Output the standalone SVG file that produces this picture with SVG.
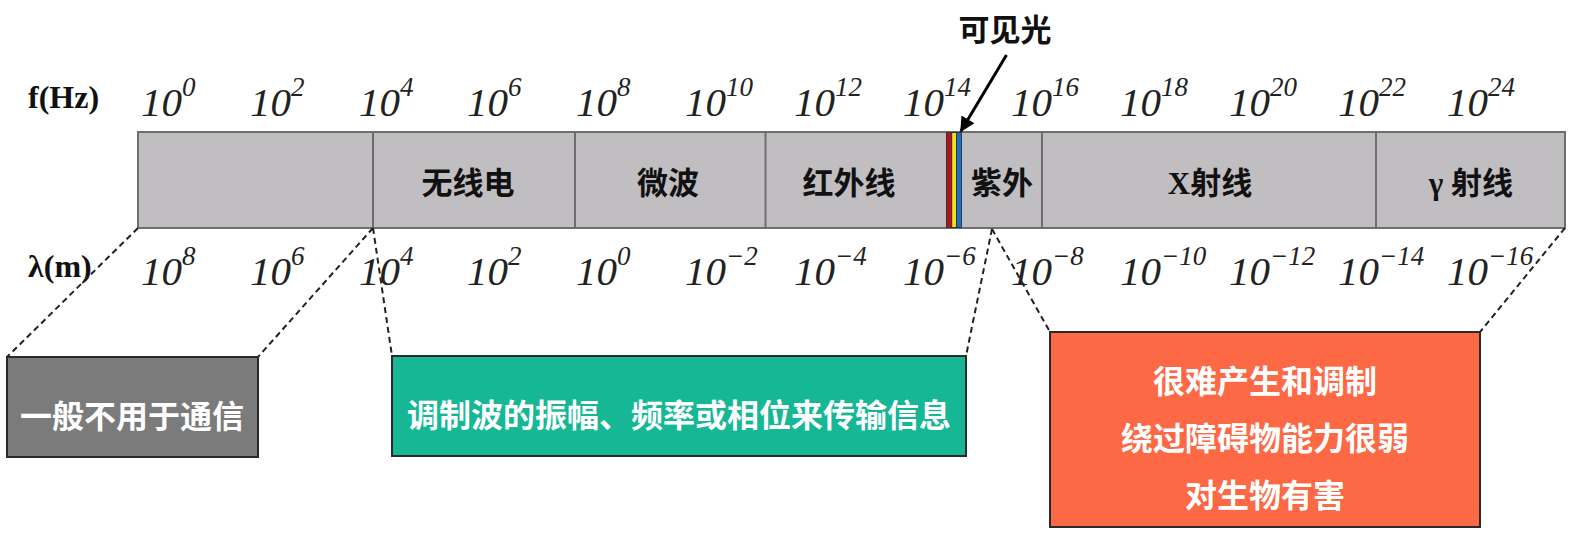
<svg xmlns="http://www.w3.org/2000/svg" width="1575" height="542" viewBox="0 0 1575 542">
<style>
.num{font-family:"Liberation Serif","Times New Roman",serif;font-style:italic;font-size:41px;fill:#222}
.num tspan{font-size:27px}
.axis{font-family:"Liberation Serif","Times New Roman",serif;font-weight:bold;font-size:32px;fill:#111}
.band{font-family:"Liberation Serif","Noto Sans CJK SC",sans-serif;font-weight:bold;font-size:31px;fill:#111;text-anchor:middle}
.cjk{font-family:"Noto Sans CJK SC",sans-serif;font-weight:bold;text-anchor:middle}
.wt{fill:#fff;font-size:32px}
.box{stroke:#2a2a2a;stroke-width:2}
.dash{stroke:#222;stroke-width:2;stroke-dasharray:6 4;fill:none}
.div{stroke:#6e6e6e;stroke-width:2}
</style>
<defs>
<marker id="ah" viewBox="0 0 10 10" refX="9" refY="5" markerWidth="6" markerHeight="5" orient="auto" markerUnits="strokeWidth">
<path d="M0,0 L10,5 L0,10 z" fill="#000"/>
</marker>
</defs>

<g id="axis-labels">
<text class="axis" x="28" y="108">f(Hz)</text>
<text class="axis" x="28" y="277">λ(m)</text>
</g>

<g id="freq-labels">
<text class="num" x="141" y="116">10<tspan dy="-20">0</tspan></text>
<text class="num" x="250" y="116">10<tspan dy="-20">2</tspan></text>
<text class="num" x="359" y="116">10<tspan dy="-20">4</tspan></text>
<text class="num" x="467" y="116">10<tspan dy="-20">6</tspan></text>
<text class="num" x="576" y="116">10<tspan dy="-20">8</tspan></text>
<text class="num" x="685" y="116">10<tspan dy="-20">10</tspan></text>
<text class="num" x="794" y="116">10<tspan dy="-20">12</tspan></text>
<text class="num" x="903" y="116">10<tspan dy="-20">14</tspan></text>
<text class="num" x="1011" y="116">10<tspan dy="-20">16</tspan></text>
<text class="num" x="1120" y="116">10<tspan dy="-20">18</tspan></text>
<text class="num" x="1229" y="116">10<tspan dy="-20">20</tspan></text>
<text class="num" x="1338" y="116">10<tspan dy="-20">22</tspan></text>
<text class="num" x="1447" y="116">10<tspan dy="-20">24</tspan></text>
</g>

<g id="wave-labels">
<text class="num" x="141" y="285">10<tspan dy="-20">8</tspan></text>
<text class="num" x="250" y="285">10<tspan dy="-20">6</tspan></text>
<text class="num" x="359" y="285">10<tspan dy="-20">4</tspan></text>
<text class="num" x="467" y="285">10<tspan dy="-20">2</tspan></text>
<text class="num" x="576" y="285">10<tspan dy="-20">0</tspan></text>
<text class="num" x="685" y="285">10<tspan dy="-20">−2</tspan></text>
<text class="num" x="794" y="285">10<tspan dy="-20">−4</tspan></text>
<text class="num" x="903" y="285">10<tspan dy="-20">−6</tspan></text>
<text class="num" x="1011" y="285">10<tspan dy="-20">−8</tspan></text>
<text class="num" x="1120" y="285">10<tspan dy="-20">−10</tspan></text>
<text class="num" x="1229" y="285">10<tspan dy="-20">−12</tspan></text>
<text class="num" x="1338" y="285">10<tspan dy="-20">−14</tspan></text>
<text class="num" x="1447" y="285">10<tspan dy="-20">−16</tspan></text>
</g>

<g id="spectrum-bar">
<rect x="138" y="132" width="1427" height="96" fill="#c0bec1" stroke="#6e6e6e" stroke-width="2"/>
<line class="div" x1="373" y1="132" x2="373" y2="228"/>
<line class="div" x1="575" y1="132" x2="575" y2="228"/>
<line class="div" x1="765.5" y1="132" x2="765.5" y2="228"/>
<line class="div" x1="1042" y1="132" x2="1042" y2="228"/>
<line class="div" x1="1376" y1="132" x2="1376" y2="228"/>
</g>

<g id="visible-band">
<rect x="946" y="132" width="16" height="96" fill="#333"/>
<rect x="947" y="133" width="4.3" height="94" fill="#b3141c"/>
<rect x="952.2" y="133" width="3.8" height="94" fill="#f2e21e"/>
<rect x="957" y="133" width="4.2" height="94" fill="#1c6fc2"/>
</g>

<g id="band-labels">
<text class="band" x="468" y="194">无线电</text>
<text class="band" x="668" y="194">微波</text>
<text class="band" x="849" y="194">红外线</text>
<text class="band" x="1002" y="194">紫外</text>
<text class="band" x="1210" y="194">X射线</text>
<text class="band" x="1471" y="194">γ 射线</text>
</g>

<g id="visible-label">
<text class="cjk" x="1005" y="41" font-size="31" fill="#111">可见光</text>
</g>

<g id="connectors">
<line x1="1006.5" y1="55" x2="961" y2="131" stroke="#000" stroke-width="3" marker-end="url(#ah)"/>
<line class="dash" x1="138" y1="228" x2="7" y2="357"/>
<line class="dash" x1="373" y1="228" x2="258" y2="357"/>
<line class="dash" x1="373" y1="228" x2="392" y2="356"/>
<line class="dash" x1="992" y1="229" x2="966" y2="356"/>
<line class="dash" x1="992" y1="229" x2="1050" y2="332"/>
<line class="dash" x1="1565" y1="228" x2="1480" y2="332"/>
</g>

<g id="box-nocomm">
<rect class="box" x="7" y="357" width="251" height="100" fill="#7b7b7b"/>
<text class="cjk wt" x="132" y="428">一般不用于通信</text>
</g>

<g id="box-radio">
<rect class="box" x="392" y="356" width="574" height="100" fill="#16b795"/>
<text class="cjk wt" x="679" y="427">调制波的振幅、频率或相位来传输信息</text>
</g>

<g id="box-high">
<rect class="box" x="1050" y="332" width="430" height="195" fill="#fd6845"/>
<text class="cjk wt" x="1265" y="393">很难产生和调制</text>
<text class="cjk wt" x="1265" y="450">绕过障碍物能力很弱</text>
<text class="cjk wt" x="1265" y="507">对生物有害</text>
</g>
</svg>
